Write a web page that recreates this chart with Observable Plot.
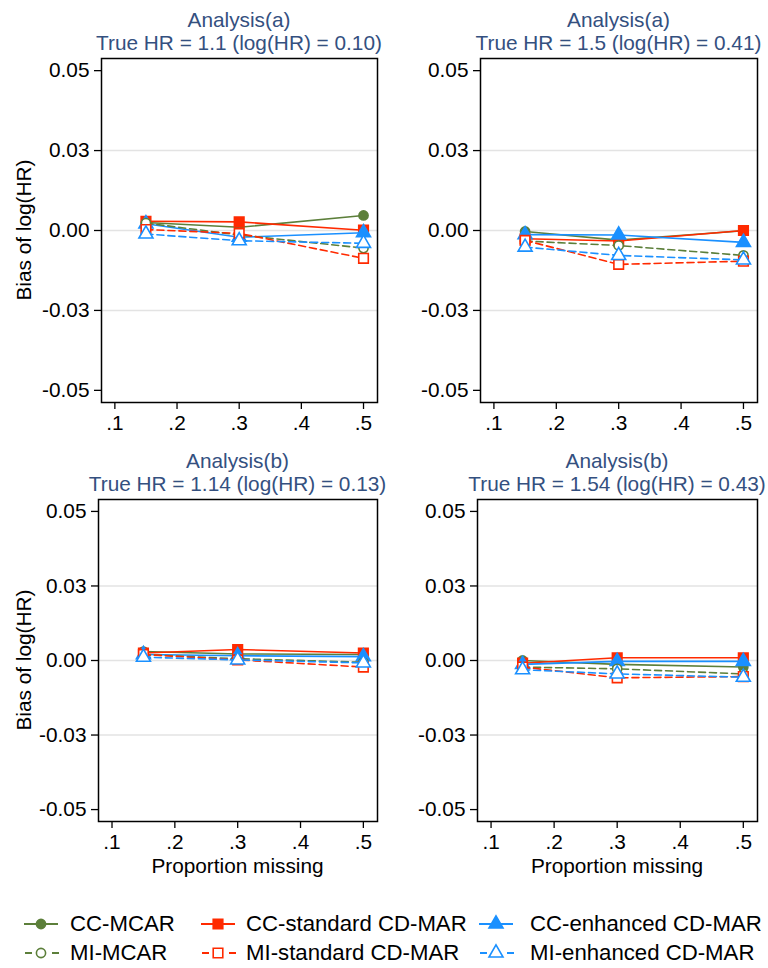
<!DOCTYPE html>
<html><head><meta charset="utf-8">
<script src="https://cdn.jsdelivr.net/npm/d3@7"></script>
<script src="https://cdn.jsdelivr.net/npm/@observablehq/plot@0.6"></script>
<style>
body{margin:0;background:#fff;font-family:"Liberation Sans",Arial,Helvetica,sans-serif;}
#root{position:relative;width:768px;height:968px;overflow:hidden;background:#fff;}
.t{position:absolute;text-align:center;color:#34507f;font-size:20.8px;line-height:20px;white-space:nowrap;z-index:2;}
.lab{position:absolute;text-align:center;color:#000;font-size:20.8px;line-height:20px;white-space:nowrap;z-index:2;}
.panel{position:absolute;z-index:1;}
.leg{position:absolute;font-size:22.2px;line-height:20px;white-space:nowrap;color:#000;}
.leg svg{position:absolute;left:0;top:0;}
.leg span{position:absolute;top:0;}
</style></head>
<body><div id="root"></div>
<script>
// ---- data ----
const proportions = [0.15, 0.3, 0.5];
const panelTitle1 = ["Analysis(a)", "Analysis(a)", "Analysis(b)", "Analysis(b)"];
const panelTitle2 = ["True HR = 1.1 (log(HR) = 0.10)", "True HR = 1.5 (log(HR) = 0.41)",
                     "True HR = 1.14 (log(HR) = 0.13)", "True HR = 1.54 (log(HR) = 0.43)"];
// each series: one array of 3 values (at proportions) per panel
const ccMcar = [[0.0025, 0.0010, 0.0047], [-0.0003, -0.0030, -0.0001], [0.0030, 0.0022, 0.0020], [0.0000, -0.0013, -0.0022]];
const ccStd  = [[0.0029, 0.0027, 0.0001], [-0.0026, -0.0033, 0.0000], [0.0025, 0.0037, 0.0025], [-0.0009, 0.0009, 0.0009]];
const ccEnh  = [[0.0021, -0.0021, -0.0007], [-0.0013, -0.0014, -0.0037], [0.0020, 0.0016, 0.0013], [-0.0013, -0.0003, -0.0003]];
const miMcar = [[0.0023, -0.0014, -0.0055], [-0.0033, -0.0047, -0.0078], [0.0020, 0.0006, -0.0006], [-0.0022, -0.0028, -0.0045]];
const miStd  = [[0.0003, -0.0009, -0.0087], [-0.0031, -0.0106, -0.0096], [0.0020, 0.0002, -0.0022], [-0.0022, -0.0058, -0.0054]];
const miEnh  = [[-0.0011, -0.0032, -0.0040], [-0.0052, -0.0078, -0.0092], [0.0011, 0.0002, -0.0008], [-0.0031, -0.0045, -0.0056]];
const seriesLabels = ["CC-MCAR", "CC-standard CD-MAR", "CC-enhanced CD-MAR", "MI-MCAR", "MI-standard CD-MAR", "MI-enhanced CD-MAR"];
const yTicks = [-0.05, -0.025, 0, 0.025, 0.05];
const yTickLabels = ["-0.05", "-0.03", "0.00", "0.03", "0.05"];
const xTicks = [0.1, 0.2, 0.3, 0.4, 0.5];
const xTickLabels = [".1", ".2", ".3", ".4", ".5"];
const yLabel = "Bias of log(HR)";
const xLabel = "Proportion missing";

// ---- styles ----
const GREEN = "#5c7f3a", RED = "#ff2a00", BLUE = "#1a90ff";
const seriesValues = [ccMcar, ccStd, ccEnh, miMcar, miStd, miEnh];
const seriesStyle = [
  {color: GREEN, symbol: "circle", r: 4.6, filled: true, dash: null},
  {color: RED, symbol: "square", r: 5.4, filled: true, dash: null},
  {color: BLUE, symbol: "triangle", r: 5.2, filled: true, dash: null},
  {color: GREEN, symbol: "circle", r: 4.6, filled: false, dash: "7,4"},
  {color: RED, symbol: "square", r: 5.4, filled: false, dash: "7,4"},
  {color: BLUE, symbol: "triangle", r: 5.2, filled: false, dash: "7,4"}
];

// panel layouts (outer svg box + margins)
const layout = [
  {left: 0, top: 50, width: 384, height: 390, ml: 101, mr: 7, mt: 8, mb: 38, yd: 0.0538, titleTop: 10},
  {left: 380, top: 50, width: 384, height: 390, ml: 100, mr: 7, mt: 8, mb: 38, yd: 0.0538, titleTop: 10},
  {left: 0, top: 490, width: 384, height: 370, ml: 98, mr: 7, mt: 9, mb: 39, yd: 0.054, titleTop: 451},
  {left: 380, top: 490, width: 384, height: 370, ml: 97, mr: 7, mt: 9, mb: 39, yd: 0.054, titleTop: 451}
];

const root = document.getElementById("root");
const FONT = '"Liberation Sans", Arial, Helvetica, sans-serif';

layout.forEach((L, p) => {
  const marks = [
    Plot.ruleY([-0.025, 0, 0.025], {stroke: "#e3e3e3", strokeWidth: 1.5}),
  ];
  seriesValues.forEach((vals, s) => {
    const st = seriesStyle[s];
    const data = proportions.map((x, i) => ({x, y: vals[p][i]}));
    marks.push(Plot.line(data, {x: "x", y: "y", stroke: st.color, strokeWidth: 1.6,
      strokeDasharray: st.dash || undefined}));
    marks.push(Plot.dot(data, {x: "x", y: "y", symbol: st.symbol, r: st.r,
      fill: st.filled ? st.color : "white", stroke: st.color, strokeWidth: 1.6}));
  });
  marks.push(Plot.frame({stroke: "black", strokeWidth: 1.5}));
  marks.push(Plot.axisY(yTicks, {tickFormat: d => yTickLabels[yTicks.indexOf(d)], tickSize: 7, tickPadding: 5,
    stroke: "black", strokeWidth: 1.3, fill: "black", label: null}));
  marks.push(Plot.axisX(xTicks, {tickFormat: d => xTickLabels[xTicks.indexOf(d)], tickSize: 7, tickPadding: 6,
    stroke: "black", strokeWidth: 1.3, fill: "black", label: null}));

  const chart = Plot.plot({
    width: L.width, height: L.height,
    marginLeft: L.ml, marginRight: L.mr, marginTop: L.mt, marginBottom: L.mb,
    x: {domain: [0.0785, 0.5225]},
    y: {domain: [-L.yd, L.yd]},
    style: {fontSize: "20.8px", fontFamily: FONT, color: "black", background: "transparent", overflow: "visible"},
    marks
  });
  chart.classList.add("panel");
  chart.style.left = L.left + "px";
  chart.style.top = L.top + "px";
  root.appendChild(chart);

  const fl = L.left + L.ml, fr = L.left + L.width - L.mr, fc = (fl + fr) / 2;
  [panelTitle1[p], panelTitle2[p]].forEach((txt, k) => {
    const t = document.createElement("div");
    t.className = "t";
    t.style.left = (fc - 200) + "px";
    t.style.width = "400px";
    t.style.top = (L.titleTop + k * 23) + "px";
    t.textContent = txt;
    root.appendChild(t);
  });

  if (p % 2 === 0) {
    const ft = L.top + L.mt, fb = L.top + L.height - L.mb, fm = (ft + fb) / 2;
    const yl = document.createElement("div");
    yl.className = "lab";
    yl.style.left = (23.5 - 100) + "px";
    yl.style.width = "200px";
    yl.style.top = (fm - 10) + "px";
    yl.style.transform = "rotate(-90deg)";
    yl.textContent = yLabel;
    root.appendChild(yl);
  }
  if (p >= 2) {
    const xl = document.createElement("div");
    xl.className = "lab";
    xl.style.left = (fc - 150) + "px";
    xl.style.width = "300px";
    xl.style.top = "856px";
    xl.textContent = xLabel;
    root.appendChild(xl);
  }
});

// ---- legend ----
const legCols = [{icon: 24, text: 70}, {icon: 201, text: 246}, {icon: 479, text: 530}];
const legRows = [914, 943];
seriesLabels.forEach((lab, s) => {
  const st = seriesStyle[s];
  const col = legCols[s % 3], row = legRows[Math.floor(s / 3)];
  const d = document.createElement("div");
  d.className = "leg";
  d.style.left = col.icon + "px";
  d.style.top = row + "px";
  const ns = "http://www.w3.org/2000/svg";
  const svg = document.createElementNS(ns, "svg");
  svg.setAttribute("width", 36); svg.setAttribute("height", 20);
  const ln = document.createElementNS(ns, "line");
  ln.setAttribute("x1", st.dash ? 1 : 0); ln.setAttribute("x2", st.dash ? 35 : 34);
  ln.setAttribute("y1", 10); ln.setAttribute("y2", 10);
  ln.setAttribute("stroke", st.color); ln.setAttribute("stroke-width", 1.8);
  if (st.dash) ln.setAttribute("stroke-dasharray", "7,20");
  svg.appendChild(ln);
  const path = document.createElementNS(ns, "path");
  const symMap = {circle: d3.symbolCircle, square: d3.symbolSquare, triangle: d3.symbolTriangle};
  path.setAttribute("d", d3.symbol(symMap[st.symbol], Math.PI * st.r * st.r)());
  path.setAttribute("transform", "translate(17,10)");
  path.setAttribute("fill", st.filled ? st.color : "white");
  path.setAttribute("stroke", st.color); path.setAttribute("stroke-width", 1.6);
  svg.appendChild(path);
  d.appendChild(svg);
  const sp = document.createElement("span");
  sp.style.left = (col.text - col.icon) + "px";
  sp.textContent = lab;
  d.appendChild(sp);
  root.appendChild(d);
});
</script></body></html>
